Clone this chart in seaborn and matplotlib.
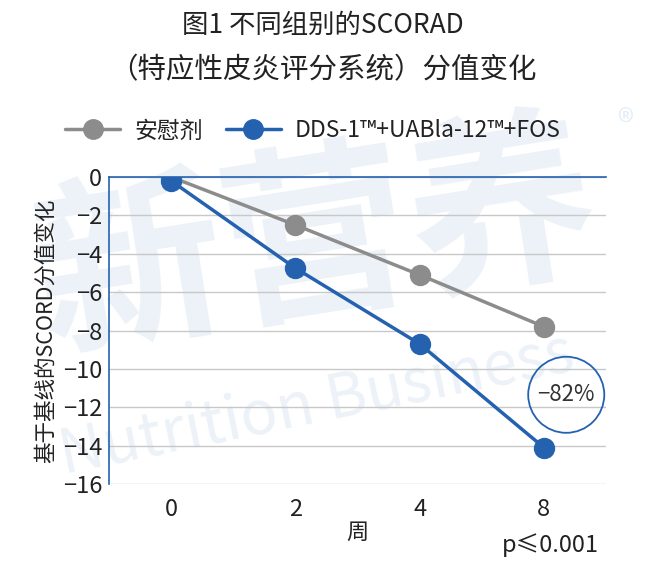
import numpy as np
import pandas as pd
import matplotlib
matplotlib.use('Agg')
import matplotlib.pyplot as plt
import seaborn as sns

weeks = ['0', '2', '4', '8']
placebo = [0.0, -2.5, -5.1, -7.8]
active = [-0.2, -4.75, -8.7, -14.1]
labels = ['安慰剂', 'DDS-1™+UABla-12™+FOS']
yticks = [0, -2, -4, -6, -8, -10, -12, -14, -16]

gray = '#8c8c8c'
blue = '#2462b0'

sns.set_theme(style='white')
plt.rcParams['font.family'] = ['Noto Sans CJK SC', 'DejaVu Sans']

df = pd.DataFrame({
    'week': weeks * 2,
    'value': placebo + active,
    'group': [labels[0]] * 4 + [labels[1]] * 4,
})

fig = plt.figure(figsize=(6.46, 5.78), dpi=100)
ax = fig.add_axes([109 / 646, 1 - 484 / 578, 497 / 646, 307 / 578])
ax.patch.set_visible(False)

# watermark
fig.text(0.49, 0.575, '新营养', fontsize=136, color='#ecf2f8', ha='center', va='center',
         rotation=9, zorder=-2, fontweight='bold')
fig.text(0.49, 0.30, 'Nutrition Business', fontsize=44, color='#ecf2f8', ha='center',
         va='center', rotation=11.5, zorder=-2, fontweight='light')
fig.text(625 / 646, 1 - 125 / 578, '®', fontsize=24, color='#e4edf6', ha='center', va='center', zorder=-2)

sns.pointplot(data=df, x='week', y='value', hue='group', order=weeks,
              hue_order=labels, palette=[gray, blue], markers='o',
              markersize=13.5, linewidth=2.5, ax=ax, legend=False)

ax.set_xlim(-0.5, 3.5)
ax.set_ylim(-16, 0)
ax.set_yticks(yticks)
ax.set_yticklabels([f'{t}'.replace('-', '\u2212') for t in yticks])
ax.yaxis.grid(True, color='#c8c8c8', linewidth=1)
ax.set_axisbelow(True)
for s in ['right', 'bottom']:
    ax.spines[s].set_visible(False)
ax.spines['left'].set_color(blue)
ax.spines['top'].set_color(blue)
ax.spines['left'].set_linewidth(1.2)
ax.spines['top'].set_linewidth(1.2)
ax.tick_params(axis='both', length=0, labelsize=17, colors='#222222')
ax.tick_params(axis='y', pad=5)
ax.tick_params(axis='x', pad=10)

ax.set_ylabel('基于基线的SCORD分值变化', fontsize=15.5, color='#222222', labelpad=4)
ax.set_xlabel('周', fontsize=16, color='#222222', labelpad=0)

# circled annotation
ax.scatter([3.18], [-11.35], s=3000, facecolors='none', edgecolors=blue, linewidths=1.3, zorder=5)
ax.text(3.18, -11.35, '\u221282%', fontsize=16, color='#333333', ha='center', va='center', zorder=6)

fig.text(550 / 646, 1 - 545 / 578, 'p≤0.001', fontsize=17, color='#222222', ha='center', va='center')

fig.text(0.5, 1 - 25 / 578, '图1 不同组别的SCORAD', fontsize=19, color='#222222', ha='center', va='center')
fig.text(0.5, 1 - 70 / 578, '（特应性皮炎评分系统）分值变化', fontsize=20.5, color='#222222', ha='center', va='center')

handles = [plt.Line2D([], [], color=c, marker='o', markersize=14, linewidth=2.5) for c in [gray, blue]]
ax.legend(handles, labels, loc='center', bbox_to_anchor=(0.41, 1.15), ncol=2, frameon=False,
          fontsize=16.5, handlelength=2.4, columnspacing=1.0, handletextpad=0.6,
          labelcolor='#222222')

fig.savefig('out.png', dpi=100)
